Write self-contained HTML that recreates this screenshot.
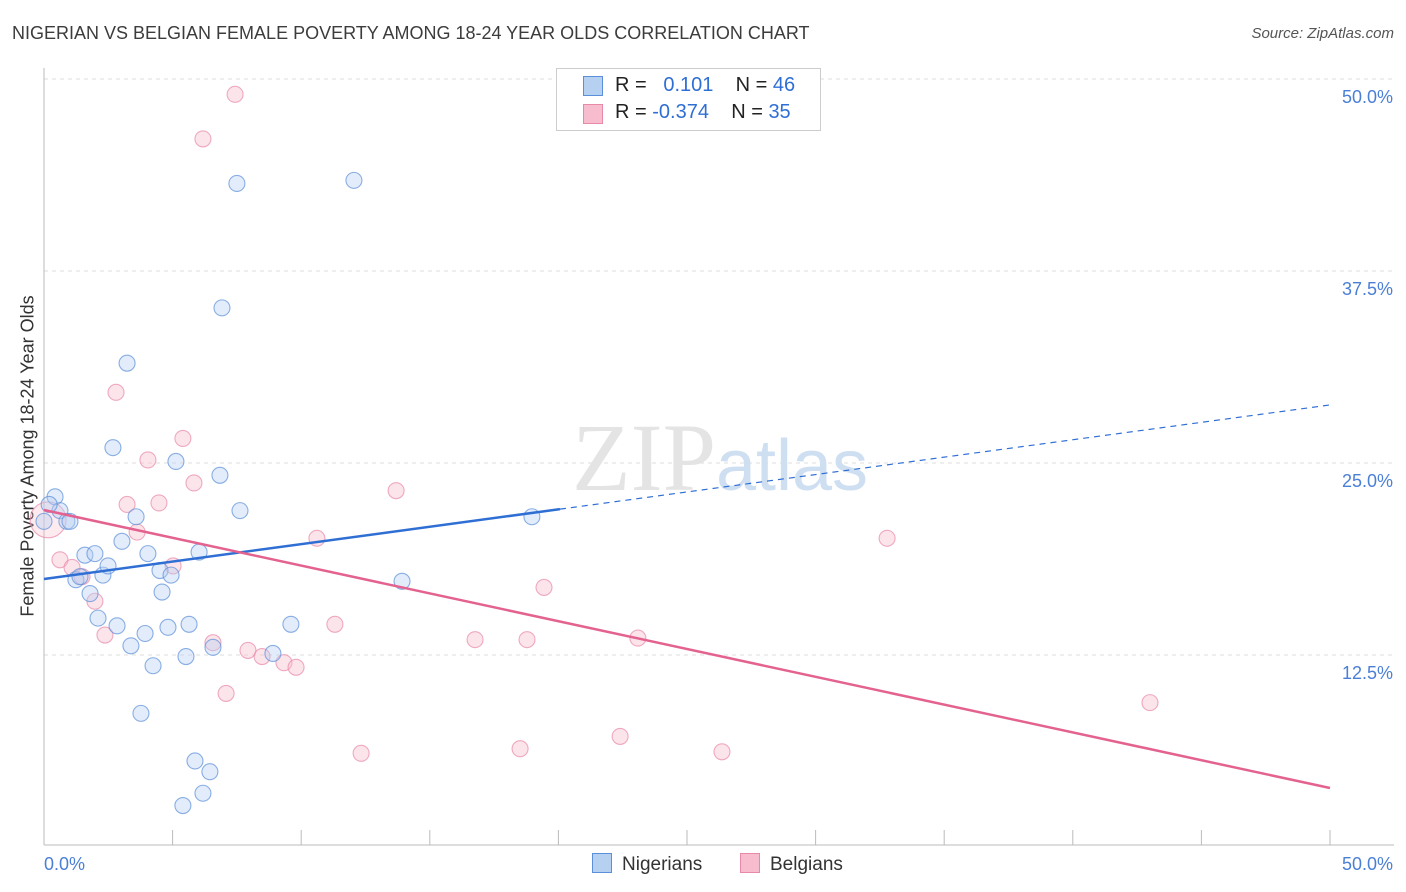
<!DOCTYPE html>
<html><head><meta charset="utf-8"><style>
body{margin:0;background:#fff;font-family:"Liberation Sans",sans-serif;}
#wrap{position:relative;width:1406px;height:892px;overflow:hidden}
.t{position:absolute;white-space:nowrap}
</style></head><body><div id="wrap">
<div class="t" style="left:12px;top:23px;font-size:18px;color:#3c3c3c">NIGERIAN VS BELGIAN FEMALE POVERTY AMONG 18-24 YEAR OLDS CORRELATION CHART</div>
<div class="t" style="right:12px;top:25px;font-size:15px;color:#555;font-style:italic">Source: ZipAtlas.com</div>
<div class="t" style="left:28px;top:456px;font-size:18px;color:#333;transform:translate(-50%,-50%) rotate(-90deg)">Female Poverty Among 18-24 Year Olds</div>
<svg id="svg" width="1406" height="892" style="position:absolute;left:0;top:0"></svg>
</div>
<script>
const xTicks=[0,50];
const yTicks=[12.5,25,37.5,50];
const nigX=[0.43,0.62,0.89,1.01,1.59,1.98,1.24,1.40,1.79,2.29,2.49,2.10,2.84,3.03,2.68,3.23,3.58,4.04,3.38,3.93,4.24,3.77,4.51,4.59,4.82,4.94,5.13,5.52,5.64,6.03,5.87,6.18,6.45,5.40,6.57,6.84,6.92,7.50,7.62,8.90,9.60,12.05,13.92,18.97,0.0,0.2];
const nigY=[22.8,21.9,21.2,21.2,19.0,19.1,17.4,17.6,16.5,17.7,18.3,14.9,14.4,19.9,26.0,31.5,21.5,19.1,13.1,13.9,11.8,8.7,18.0,16.6,14.3,17.7,25.1,12.4,14.5,19.2,5.6,3.5,4.9,2.7,13.0,24.2,35.1,43.2,21.9,12.6,14.5,43.4,17.3,21.5,21.2,22.3];
const belX=[0.16,0.62,1.09,1.48,1.98,2.37,2.80,3.23,3.62,4.04,4.47,5.02,5.40,5.83,6.18,6.57,7.08,7.43,7.93,8.48,9.33,9.80,10.61,11.31,12.33,13.69,16.76,18.51,18.78,19.44,22.40,23.09,26.36,32.78,43.0];
const belY=[21.3,18.7,18.2,17.6,16.0,13.8,29.6,22.3,20.5,25.2,22.4,18.3,26.6,23.7,46.1,13.3,10.0,49.0,12.8,12.4,12.0,11.7,20.1,14.5,6.1,23.2,13.5,6.4,13.5,16.9,7.2,13.6,6.2,20.1,9.4];
const nigTrend=[17.45,28.78];
const belTrend=[21.94,3.84];
const X=v=>44+v/50*1286, Y=v=>847-v/12.5*192;
const svg=document.getElementById('svg');const NS='http://www.w3.org/2000/svg';
function mk(t,a,p){const e=document.createElementNS(NS,t);for(const k in a)e.setAttribute(k,a[k]);(p||svg).appendChild(e);return e;}
for(const v of yTicks){
 const g=mk('line',{x1:44,x2:1394,y1:Y(v),y2:Y(v),stroke:'#ddd','stroke-dasharray':'4,4'});
 
 
 const t=mk('text',{x:1393,y:Y(v)+24,'text-anchor':'end','font-size':18,fill:'#4a7fd6','font-family':'Liberation Sans'});
 t.textContent=v.toFixed(1)+'%';
 
 
}
mk('line',{x1:44,x2:44,y1:68,y2:845,stroke:'#bbb'});
mk('line',{x1:44,x2:1394,y1:845,y2:845,stroke:'#bbb'});
for(let i=0;i<=10;i++){const tk=mk('line',{x1:X(i*5),x2:X(i*5),y1:830,y2:845,stroke:'#bbb'});}
xTicks.forEach((v,i)=>{const t=mk('text',{x:i?1393:44,y:870,'text-anchor':i?'end':'start','font-size':18,fill:'#4a7fd6','font-family':'Liberation Sans'});t.textContent=v.toFixed(1)+'%';
 
 });
const wm=mk('text',{x:720,y:490,'text-anchor':'middle','font-size':96,fill:'#e4e4e4','font-family':'Liberation Serif'});wm.innerHTML='ZIP<tspan fill="#cfdff2" font-family="Liberation Sans" font-size="72">atlas</tspan>';


function dots(xs,ys,fill,stroke,name){xs.forEach((x,i)=>{const big=(name==='belgian-point'&&i===0);const c=mk('circle',{cx:X(x),cy:Y(ys[i]),r:big?18:8,fill:fill,'fill-opacity':big?0.3:0.4,stroke:stroke,'stroke-width':1.1,'stroke-opacity':0.7});
 
 });}
dots(belX,belY,'#f7bccd','#e889a8','belgian-point');
dots(nigX,nigY,'#b6d0f2','#5b8fd9','nigerian-point');
const xs=20.06;const ys=nigTrend[0]+(nigTrend[1]-nigTrend[0])*xs/50;
const l1=mk('line',{x1:X(0),y1:Y(nigTrend[0]),x2:X(xs),y2:Y(ys),stroke:'#2f6fd4','stroke-width':2.5});


const l2=mk('line',{x1:X(xs),y1:Y(ys),x2:X(50),y2:Y(nigTrend[1]),stroke:'#2f6fd4','stroke-width':1.2,'stroke-dasharray':'6,5'});


const l3=mk('line',{x1:X(0),y1:Y(belTrend[0]),x2:X(50),y2:Y(belTrend[1]),stroke:'#e4628f','stroke-width':2.5});


</script>
<div class="t" style="left:556px;top:68px;width:263px;height:61px;border:1px solid #ccc;background:#fff;font-size:20px;color:#222">
 <div style="position:absolute;left:26px;top:7px;width:18px;height:18px;background:#b6d0f2;border:1px solid #5b8fd9"></div>
 <div style="position:absolute;left:58px;top:5px">R = &nbsp;&nbsp;<span style="color:#2f6fd4">0.101</span>&nbsp;&nbsp;&nbsp; N = <span style="color:#2f6fd4">46</span></div>
 <div style="position:absolute;left:26px;top:35px;width:18px;height:18px;background:#f7bccd;border:1px solid #e889a8"></div>
 <div style="position:absolute;left:58px;top:32px">R = <span style="color:#2f6fd4">-0.374</span>&nbsp;&nbsp;&nbsp; N = <span style="color:#2f6fd4">35</span></div>
</div>
<div class="t" style="left:592px;top:853px;font-size:19px;color:#333"><span style="display:inline-block;width:18px;height:18px;background:#b6d0f2;border:1px solid #5b8fd9;vertical-align:-3px;margin-right:10px"></span>Nigerians</div>
<div class="t" style="left:740px;top:853px;font-size:19px;color:#333"><span style="display:inline-block;width:18px;height:18px;background:#f7bccd;border:1px solid #e889a8;vertical-align:-3px;margin-right:10px"></span>Belgians</div>
</body></html>
